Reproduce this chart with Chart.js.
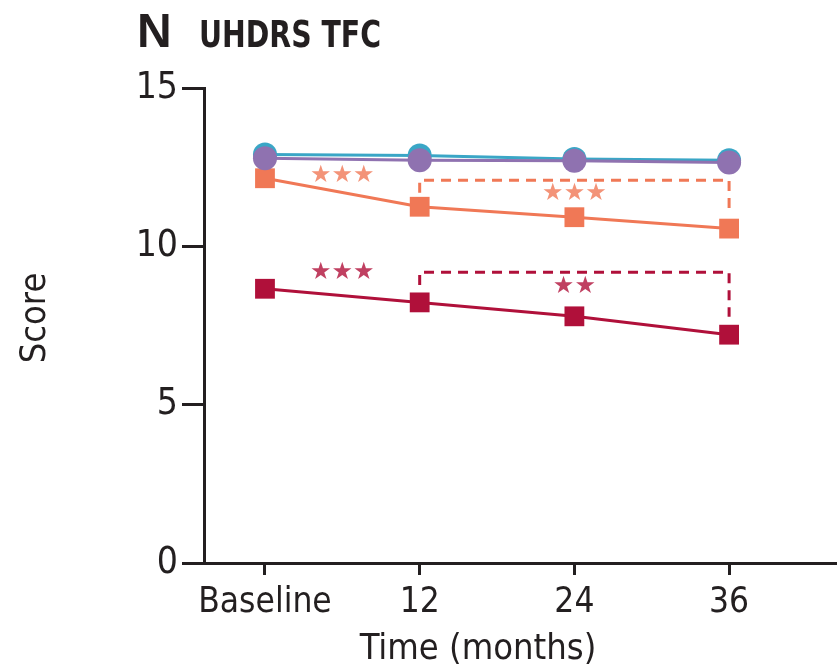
<!DOCTYPE html>
<html>
<head>
<meta charset="utf-8">
<script src="https://cdn.jsdelivr.net/npm/chart.js@4.4.1/dist/chart.umd.min.js"></script>
<style>
    html, body { margin: 0; padding: 0; background: #ffffff; }
    #wrap { position: relative; width: 837px; height: 671px; }
</style>
</head>
<body>
<div id="wrap"><canvas id="chart"></canvas></div>
<script>
// Time points (months) and tick labels
const months = [0, 12, 24, 36];
const monthLabels = ['Baseline', '12', '24', '36'];
const scoreTicks = [0, 5, 10, 15];

// Mean UHDRS TFC score per group at each visit
const groupNames = ['Controls', 'PreHD', 'HD1', 'HD2'];
const controlsScores = [12.9, 12.87, 12.76, 12.72];
const preHdScores = [12.78, 12.72, 12.7, 12.65];
const hd1Scores = [12.15, 11.25, 10.92, 10.56];
const hd2Scores = [8.66, 8.23, 7.79, 7.21];

// Significance stars (month, score, text) - first two orange, last two red
const starMonths = [6, 24, 6, 24];
const starScores = [12.22, 11.65, 9.16, 8.71];
const starTexts = ['★★★', '★★★', '★★★', '★★'];

// Brackets spanning 12 -> 36 months: top, left leg end, right leg end
const bracketFrom = 12;
const bracketTo = 36;
const bracketTop = [12.09, 9.18];
const bracketLeftEnd = [11.69, 8.78];
const bracketRightEnd = [11.15, 7.78];

const axisColor = '#231f20';
const textColor = '#231f20';
const tealColor = '#3aa6c6';
const purpleColor = '#8f72b0';
const orangeColor = '#f07856';
const redColor = '#b0103a';
const fontFamily = "'DejaVu Sans Condensed', 'Liberation Sans', sans-serif";

const toPoints = values => months.map((m, i) => ({ x: m, y: values[i] }));

// Draws panel heading, axis titles, brackets and stars
const annotationPlugin = {
    id: 'annotations',
    afterDatasetsDraw(chart) {
        const { ctx, scales: { x, y } } = chart;
        const colors = [orangeColor, redColor];
        ctx.save();

        // dashed brackets
        ctx.lineWidth = 3;
        ctx.setLineDash([10, 7]);
        bracketTop.forEach((top, i) => {
            const x0 = x.getPixelForValue(bracketFrom);
            const x1 = x.getPixelForValue(bracketTo);
            ctx.strokeStyle = colors[i];
            ctx.beginPath();
            ctx.moveTo(x0, y.getPixelForValue(bracketLeftEnd[i]));
            ctx.lineTo(x0, y.getPixelForValue(top));
            ctx.lineTo(x1, y.getPixelForValue(top));
            ctx.lineTo(x1, y.getPixelForValue(bracketRightEnd[i]));
            ctx.stroke();
        });
        ctx.setLineDash([]);

        // stars
        ctx.font = "24px 'DejaVu Sans'";
        ctx.textAlign = 'center';
        ctx.textBaseline = 'middle';
        ctx.globalAlpha = 0.8;
        starTexts.forEach((t, i) => {
            ctx.fillStyle = colors[i < 2 ? 0 : 1];
            ctx.fillText(t, x.getPixelForValue(starMonths[i]), y.getPixelForValue(starScores[i]));
        });
        ctx.globalAlpha = 1;

        // panel heading
        ctx.fillStyle = textColor;
        ctx.textAlign = 'left';
        ctx.textBaseline = 'alphabetic';
        ctx.font = "bold 48px 'Liberation Sans'";
        ctx.fillText('N', 137, 47);
        ctx.save();
        ctx.translate(199, 47);
        ctx.scale(0.83, 1);
        ctx.font = 'bold 38px ' + fontFamily;
        ctx.fillText('UHDRS TFC', 0, 0);
        ctx.restore();

        // axis titles
        ctx.font = '36px ' + fontFamily;
        ctx.textAlign = 'center';
        ctx.textBaseline = 'middle';
        ctx.fillText('Time (months)', 478, 650);
        ctx.translate(36, 318);
        ctx.rotate(-Math.PI / 2);
        ctx.fillText('Score', 0, 0);
        ctx.restore();
    }
};

const ctx = document.getElementById('chart').getContext('2d');

new Chart(ctx, {
    type: 'line',
    data: {
        datasets: [
            {
                label: groupNames[1],
                data: toPoints(preHdScores),
                borderColor: purpleColor,
                backgroundColor: purpleColor,
                borderWidth: 3,
                pointStyle: 'circle',
                pointRadius: 12,
                pointBorderWidth: 0,
                order: 0
            },
            {
                label: groupNames[0],
                data: toPoints(controlsScores),
                borderColor: tealColor,
                backgroundColor: tealColor,
                borderWidth: 3,
                pointStyle: 'circle',
                pointRadius: 12,
                pointBorderWidth: 0,
                order: 1
            },
            {
                label: groupNames[2],
                data: toPoints(hd1Scores),
                borderColor: orangeColor,
                backgroundColor: orangeColor,
                borderWidth: 3,
                pointStyle: 'rect',
                pointRadius: 14,
                pointBorderWidth: 0,
                order: 2
            },
            {
                label: groupNames[3],
                data: toPoints(hd2Scores),
                borderColor: redColor,
                backgroundColor: redColor,
                borderWidth: 3,
                pointStyle: 'rect',
                pointRadius: 14,
                pointBorderWidth: 0,
                order: 3
            }
        ]
    },
    options: {
        responsive: true,
        maintainAspectRatio: false,
        animation: false,
        clip: false,
        layout: {
            autoPadding: false,
            padding: { top: 88, right: 0, bottom: 0, left: 0 }
        },
        plugins: {
            legend: { display: false },
            tooltip: { enabled: false },
            title: { display: false }
        },
        scales: {
            x: {
                type: 'linear',
                min: -4.73,
                max: 44.37,
                afterBuildTicks: scale => { scale.ticks = months.map(v => ({ value: v })); },
                afterFit: scale => { scale.height = 108; },
                border: { display: true, color: axisColor, width: 3 },
                grid: {
                    drawOnChartArea: false,
                    drawTicks: true,
                    tickLength: 12,
                    tickWidth: 3,
                    color: axisColor,
                    lineWidth: 3
                },
                ticks: {
                    callback: (value, index) => monthLabels[index],
                    color: textColor,
                    autoSkip: false,
                    maxRotation: 0,
                    padding: 7,
                    font: { family: fontFamily, size: 35 }
                }
            },
            y: {
                type: 'linear',
                min: 0,
                max: 15,
                afterBuildTicks: scale => { scale.ticks = scoreTicks.map(v => ({ value: v })); },
                afterFit: scale => { scale.width = 204; },
                border: { display: true, color: axisColor, width: 3 },
                grid: {
                    drawOnChartArea: false,
                    drawTicks: true,
                    tickLength: 22,
                    tickWidth: 3,
                    color: axisColor,
                    lineWidth: 3
                },
                ticks: {
                    color: textColor,
                    padding: 4,
                    font: { family: fontFamily, size: 37 }
                }
            }
        }
    },
    plugins: [annotationPlugin]
});
</script>
</body>
</html>
